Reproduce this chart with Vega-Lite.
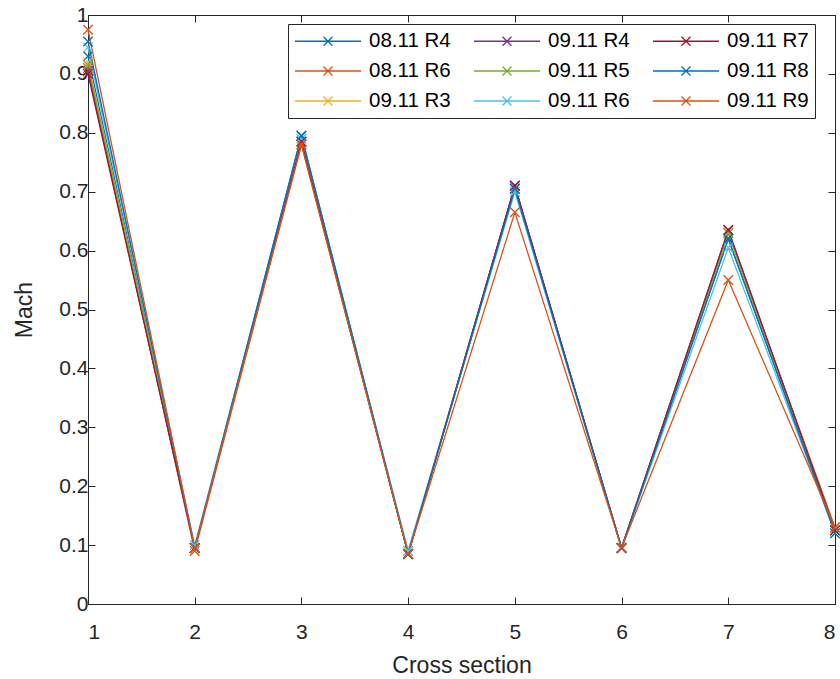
{
  "$schema": "https://vega.github.io/schema/vega-lite/v6.json",
  "width": 747,
  "height": 589,
  "autosize": {"type": "none"},
  "padding": {"left": 88, "top": 15, "right": 5, "bottom": 75},
  "background": "white",
  "config": {
    "view": {"stroke": "#262626", "strokeWidth": 1},
    "font": "Liberation Sans",
    "axis": {
      "grid": false,
      "domainColor": "#262626",
      "tickColor": "#262626",
      "tickSize": -7,
      "labelColor": "#262626",
      "titleColor": "#262626",
      "labelFont": "Liberation Sans",
      "titleFont": "Liberation Sans",
      "labelFontSize": 21,
      "titleFontSize": 23,
      "titleFontWeight": "normal"
    }
  },
  "data": {
    "values": [
      {"series": "08.11 R4", "section": 1, "mach": 0.93},
      {"series": "08.11 R4", "section": 2, "mach": 0.095},
      {"series": "08.11 R4", "section": 3, "mach": 0.795},
      {"series": "08.11 R4", "section": 4, "mach": 0.085},
      {"series": "08.11 R4", "section": 5, "mach": 0.71},
      {"series": "08.11 R4", "section": 6, "mach": 0.095},
      {"series": "08.11 R4", "section": 7, "mach": 0.62},
      {"series": "08.11 R4", "section": 8, "mach": 0.125},
      {"series": "08.11 R6", "section": 1, "mach": 0.91},
      {"series": "08.11 R6", "section": 2, "mach": 0.09},
      {"series": "08.11 R6", "section": 3, "mach": 0.78},
      {"series": "08.11 R6", "section": 4, "mach": 0.085},
      {"series": "08.11 R6", "section": 5, "mach": 0.705},
      {"series": "08.11 R6", "section": 6, "mach": 0.095},
      {"series": "08.11 R6", "section": 7, "mach": 0.63},
      {"series": "08.11 R6", "section": 8, "mach": 0.13},
      {"series": "09.11 R3", "section": 1, "mach": 0.92},
      {"series": "09.11 R3", "section": 2, "mach": 0.095},
      {"series": "09.11 R3", "section": 3, "mach": 0.785},
      {"series": "09.11 R3", "section": 4, "mach": 0.09},
      {"series": "09.11 R3", "section": 5, "mach": 0.705},
      {"series": "09.11 R3", "section": 6, "mach": 0.095},
      {"series": "09.11 R3", "section": 7, "mach": 0.63},
      {"series": "09.11 R3", "section": 8, "mach": 0.125},
      {"series": "09.11 R4", "section": 1, "mach": 0.905},
      {"series": "09.11 R4", "section": 2, "mach": 0.095},
      {"series": "09.11 R4", "section": 3, "mach": 0.785},
      {"series": "09.11 R4", "section": 4, "mach": 0.085},
      {"series": "09.11 R4", "section": 5, "mach": 0.71},
      {"series": "09.11 R4", "section": 6, "mach": 0.095},
      {"series": "09.11 R4", "section": 7, "mach": 0.635},
      {"series": "09.11 R4", "section": 8, "mach": 0.125},
      {"series": "09.11 R5", "section": 1, "mach": 0.915},
      {"series": "09.11 R5", "section": 2, "mach": 0.095},
      {"series": "09.11 R5", "section": 3, "mach": 0.785},
      {"series": "09.11 R5", "section": 4, "mach": 0.085},
      {"series": "09.11 R5", "section": 5, "mach": 0.705},
      {"series": "09.11 R5", "section": 6, "mach": 0.095},
      {"series": "09.11 R5", "section": 7, "mach": 0.63},
      {"series": "09.11 R5", "section": 8, "mach": 0.125},
      {"series": "09.11 R6", "section": 1, "mach": 0.945},
      {"series": "09.11 R6", "section": 2, "mach": 0.1},
      {"series": "09.11 R6", "section": 3, "mach": 0.79},
      {"series": "09.11 R6", "section": 4, "mach": 0.09},
      {"series": "09.11 R6", "section": 5, "mach": 0.7},
      {"series": "09.11 R6", "section": 6, "mach": 0.095},
      {"series": "09.11 R6", "section": 7, "mach": 0.605},
      {"series": "09.11 R6", "section": 8, "mach": 0.12},
      {"series": "09.11 R7", "section": 1, "mach": 0.9},
      {"series": "09.11 R7", "section": 2, "mach": 0.095},
      {"series": "09.11 R7", "section": 3, "mach": 0.785},
      {"series": "09.11 R7", "section": 4, "mach": 0.085},
      {"series": "09.11 R7", "section": 5, "mach": 0.71},
      {"series": "09.11 R7", "section": 6, "mach": 0.095},
      {"series": "09.11 R7", "section": 7, "mach": 0.635},
      {"series": "09.11 R7", "section": 8, "mach": 0.125},
      {"series": "09.11 R8", "section": 1, "mach": 0.955},
      {"series": "09.11 R8", "section": 2, "mach": 0.095},
      {"series": "09.11 R8", "section": 3, "mach": 0.795},
      {"series": "09.11 R8", "section": 4, "mach": 0.085},
      {"series": "09.11 R8", "section": 5, "mach": 0.705},
      {"series": "09.11 R8", "section": 6, "mach": 0.095},
      {"series": "09.11 R8", "section": 7, "mach": 0.62},
      {"series": "09.11 R8", "section": 8, "mach": 0.12},
      {"series": "09.11 R9", "section": 1, "mach": 0.975},
      {"series": "09.11 R9", "section": 2, "mach": 0.095},
      {"series": "09.11 R9", "section": 3, "mach": 0.78},
      {"series": "09.11 R9", "section": 4, "mach": 0.085},
      {"series": "09.11 R9", "section": 5, "mach": 0.665},
      {"series": "09.11 R9", "section": 6, "mach": 0.095},
      {"series": "09.11 R9", "section": 7, "mach": 0.55},
      {"series": "09.11 R9", "section": 8, "mach": 0.13}
    ]
  },
  "layer": [
    {
      "mark": {
        "type": "line", "strokeWidth": 1.3, "clip": false,
        "point": {"shape": "M-1,-1L1,1M-1,1L1,-1", "filled": false, "size": 90, "strokeWidth": 1.3}
      },
      "encoding": {
        "x": {
          "field": "section", "type": "quantitative",
          "scale": {"domain": [1, 8], "nice": false, "zero": false},
          "axis": {"orient": "bottom", "title": "Cross section", "values": [1,2,3,4,5,6,7,8], "format": "d", "labelPadding": 24, "titleBaseline": "alphabetic", "titleY": 68}
        },
        "y": {
          "field": "mach", "type": "quantitative",
          "scale": {"domain": [0, 1], "nice": false},
          "axis": {"orient": "left", "title": "Mach", "values": [0,0.1,0.2,0.3,0.4,0.5,0.6,0.7,0.8,0.9,1], "format": "~g", "labelPadding": 7, "titleBaseline": "alphabetic", "titleX": -57, "titleY": 294.5, "titleAngle": -90}
        },
        "color": {
          "field": "series", "type": "nominal",
          "scale": {
            "domain": ["08.11 R4","08.11 R6","09.11 R3","09.11 R4","09.11 R5","09.11 R6","09.11 R7","09.11 R8","09.11 R9"],
            "range": ["#0072BD","#D95319","#EDB120","#7E2F8E","#77AC30","#4DBEEE","#A2142F","#0072BD","#D95319"]
          },
          "legend": {
            "orient": "none", "legendX": 200, "legendY": 9,
            "columns": 3, "title": null,
            "symbolType": "M-3.3,0L3.3,0M-0.45,-0.45L0.45,0.45M-0.45,0.45L0.45,-0.45",
            "symbolSize": 400, "symbolStrokeWidth": 1.3,
            "symbolOffset": 23, "labelOffset": 30,
            "labelFont": "Liberation Sans", "labelFontSize": 20.5, "labelColor": "#000000",
            "strokeColor": "#262626", "fillColor": "#ffffff",
            "padding": 6, "rowPadding": 8, "columnPadding": 20
          }
        }
      }
    },
    {
      "mark": {"type": "point", "opacity": 0},
      "encoding": {
        "x": {"field": "section", "type": "quantitative", "scale": {"domain": [1, 8], "nice": false, "zero": false},
          "axis": {"orient": "top", "labels": false, "title": null, "values": [1,2,3,4,5,6,7,8]}},
        "y": {"field": "mach", "type": "quantitative", "scale": {"domain": [0, 1], "nice": false},
          "axis": {"orient": "right", "labels": false, "title": null, "values": [0,0.1,0.2,0.3,0.4,0.5,0.6,0.7,0.8,0.9,1]}}
      }
    }
  ],
  "resolve": {"scale": {"x": "independent", "y": "independent"}, "axis": {"x": "independent", "y": "independent"}}
}
